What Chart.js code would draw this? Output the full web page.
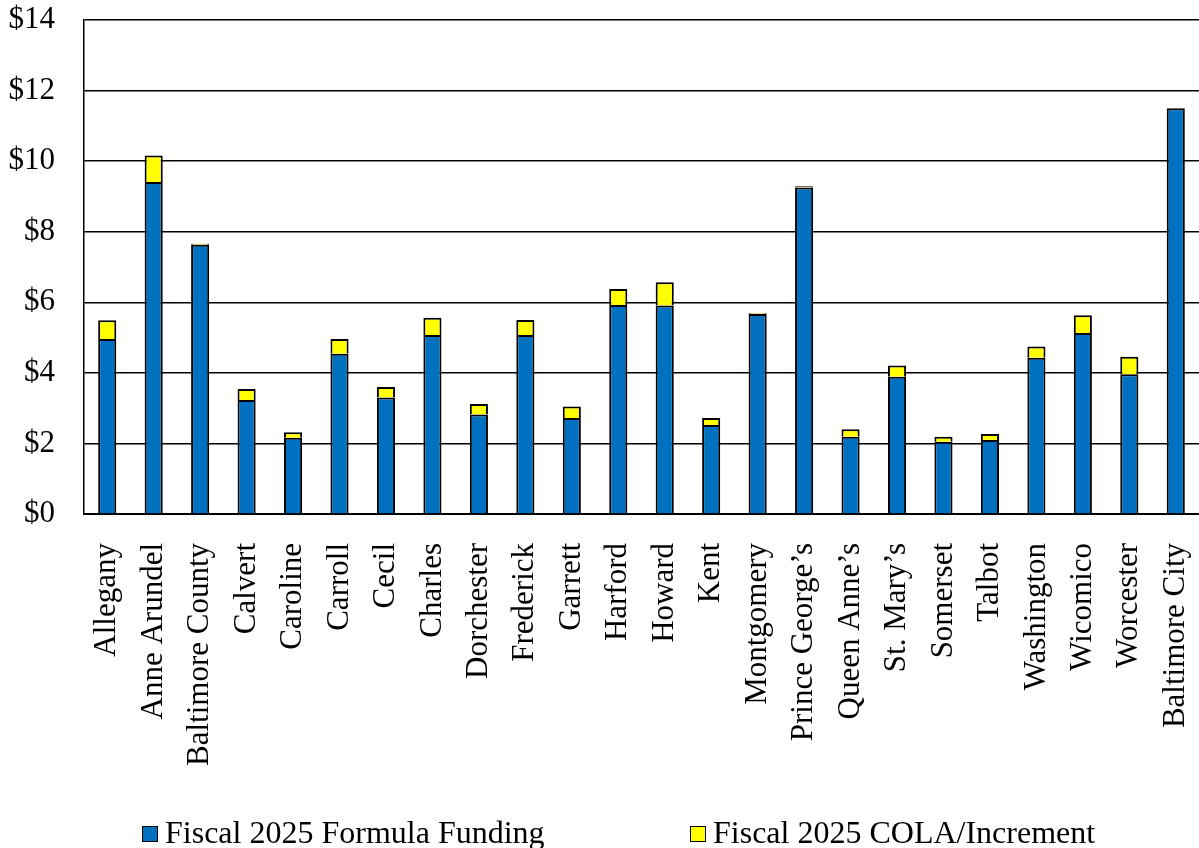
<!DOCTYPE html>
<html lang="en">
<head>
    <meta charset="UTF-8">
    <title>Fiscal 2025 Formula Funding by County</title>
    <script src="https://cdn.jsdelivr.net/npm/chart.js"></script>
    <style>
        body {
            margin: 0;
            background: #fff;
            font-family: "Liberation Serif", "Times New Roman", serif;
            overflow: hidden;
        }
        .chart-wrap {
            position: relative;
            width: 1199px;
            height: 848px;
        }
        .legend {
            position: absolute;
            left: 0;
            top: 814px;
            width: 1199px;
            font-size: 32px;
            line-height: 36px;
            color: #000;
        }
        .legend span.item {
            position: absolute;
            white-space: nowrap;
        }
        .legend span.box {
            display: inline-block;
            width: 14px;
            height: 14px;
            border: 1px solid #000;
            margin-right: 7px;
            vertical-align: 1px;
        }
    </style>
</head>
<body>
    <div class="chart-wrap">
        <canvas id="chart"></canvas>
        <div class="legend">
            <span class="item" style="left:142px"><span class="box" style="background:#0070C0"></span>Fiscal 2025 Formula Funding</span>
            <span class="item" style="left:690px"><span class="box" style="background:#FFFF00"></span>Fiscal 2025 COLA/Increment</span>
        </div>
    </div>

    <script>
        // Counties (x axis)
        const counties = [
            'Allegany', 'Anne Arundel', 'Baltimore County', 'Calvert', 'Caroline',
            'Carroll', 'Cecil', 'Charles', 'Dorchester', 'Frederick', 'Garrett',
            'Harford', 'Howard', 'Kent', 'Montgomery', 'Prince George’s',
            'Queen Anne’s', 'St. Mary’s', 'Somerset', 'Talbot', 'Washington',
            'Wicomico', 'Worcester', 'Baltimore City'
        ];

        // $ millions
        const formulaFunding = [
            4.96, 9.41, 7.63, 3.23, 2.16, 4.54, 3.30, 5.07, 2.82, 5.07, 2.72,
            5.92, 5.91, 2.52, 5.67, 9.25, 2.19, 3.89, 2.05, 2.10, 4.43,
            5.13, 3.96, 11.50
        ];
        const colaIncrement = [
            0.53, 0.75, 0.03, 0.31, 0.16, 0.42, 0.30, 0.49, 0.30, 0.43, 0.33,
            0.46, 0.66, 0.20, 0.02, 0.04, 0.21, 0.32, 0.14, 0.17, 0.32,
            0.50, 0.50, 0.00
        ];

        const serif = '"Liberation Serif", "Times New Roman", serif';

        // drop the automatic label overhang so the plot fills the canvas like the original
        function noOverhang(scale) {
            scale.paddingLeft = 0;
            scale.paddingRight = 0;
            scale.paddingTop = 0;
            scale.paddingBottom = 0;
        }

        const ctx = document.getElementById('chart').getContext('2d');
        const chart = new Chart(ctx, {
            type: 'bar',
            data: {
                labels: counties,
                datasets: [
                    {
                        label: 'Fiscal 2025 Formula Funding',
                        data: formulaFunding,
                        backgroundColor: '#0070C0',
                        borderColor: '#000',
                        borderWidth: 2,
                        barPercentage: 0.39,
                        categoryPercentage: 1
                    },
                    {
                        label: 'Fiscal 2025 COLA/Increment',
                        data: colaIncrement,
                        backgroundColor: '#FFFF00',
                        borderColor: '#000',
                        borderWidth: 2,
                        barPercentage: 0.39,
                        categoryPercentage: 1
                    }
                ]
            },
            options: {
                responsive: true,
                maintainAspectRatio: false,
                animation: false,
                layout: {
                    padding: { top: 20, left: 9, right: 0, bottom: 0 }
                },
                plugins: {
                    legend: { display: false },
                    tooltip: { enabled: false }
                },
                scales: {
                    x: {
                        stacked: true,
                        afterFit: scale => {
                            noOverhang(scale);
                            scale.height = 334;   // labels + legend space below the plot
                        },
                        grid: { display: false, drawTicks: false },
                        border: { color: '#000', width: 2 },
                        ticks: {
                            color: '#000',
                            font: { family: serif, size: 31 },
                            minRotation: 90,
                            maxRotation: 90,
                            autoSkip: false,
                            padding: 29
                        }
                    },
                    y: {
                        stacked: true,
                        min: 0,
                        max: 14,
                        afterFit: scale => {
                            noOverhang(scale);
                            scale.width = 75;
                        },
                        grid: { color: '#000', lineWidth: 1.5, drawTicks: false },
                        border: { color: '#000', width: 1.5 },
                        ticks: {
                            stepSize: 2,
                            color: '#000',
                            font: { family: serif, size: 31 },
                            padding: 29,
                            callback: value => '$' + value
                        }
                    }
                }
            }
        });
    </script>
</body>
</html>
